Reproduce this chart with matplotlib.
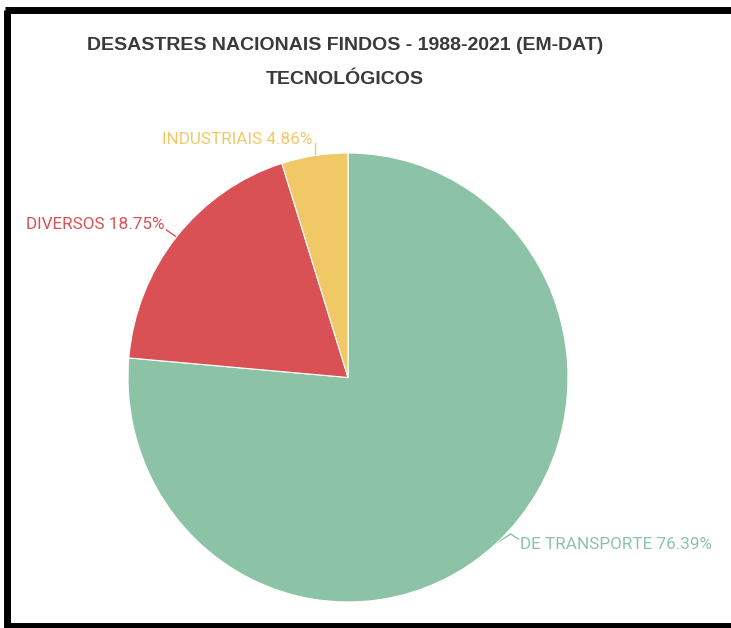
import matplotlib
matplotlib.use("Agg")
import matplotlib.pyplot as plt
import numpy as np

categories = ["DE TRANSPORTE", "DIVERSOS", "INDUSTRIAIS"]
values = [76.39, 18.75, 4.86]
colors = ["#8CC3A7", "#D95155", "#F0C966"]
title_lines = ["DESASTRES NACIONAIS FINDOS - 1988-2021 (EM-DAT)", "TECNOLÓGICOS"]

W, H = 731, 628
fig = plt.figure(figsize=(W / 100, H / 100), dpi=100)

# overlay axes in pixel coordinates
ov = fig.add_axes([0, 0, 1, 1])
ov.set_xlim(0, W)
ov.set_ylim(0, H)
ov.axis("off")

# pie axes (slightly elliptical like the reference)
pcx, pcy, pw, ph = 348, 377.5, 440, 449
pax = fig.add_axes([(pcx - pw / 2) / W, (H - pcy - ph / 2) / H, pw / W, ph / H])
wedges, _ = pax.pie(values, colors=colors, startangle=90, counterclock=False,
                    radius=1, frame=True,
                    wedgeprops=dict(edgecolor="white", linewidth=0.8))
pax.set_xlim(-1, 1)
pax.set_ylim(-1, 1)
pax.set_aspect("auto")
pax.axis("off")

label_font = ["Roboto", "DejaVu Sans"]
layouts = [
    ([(0, 0), (14, 9), (22, 4)], (23, -1), "left"),
    ([(0, 0), (-10, 7)], (-12, 12), "right"),
    ([(0, 0), (0, 13)], (-2, 16), "right"),
]
for w, cat, val, col, (pts, toff, ha) in zip(wedges, categories, values, colors, layouts):
    mid = np.deg2rad((w.theta1 + w.theta2) / 2)
    ex = pcx + pw / 2 * np.cos(mid)
    ey = (H - pcy) + ph / 2 * np.sin(mid)
    xs = [ex + p[0] for p in pts]
    ys = [ey + p[1] for p in pts]
    ov.plot(xs, ys, color=col, lw=1.0)
    ov.text(ex + toff[0], ey + toff[1], f"{cat} {val:.2f}%", color=col,
            ha=ha, va="center", fontsize=12.3, family=label_font)

title_font = ["Liberation Sans", "DejaVu Sans"]
ov.text(345, H - 45, title_lines[0], ha="center", va="center", fontsize=14,
        fontweight="bold", color="#3a3a3a", family=title_font)
ov.text(345, H - 80, title_lines[1], ha="center", va="center", fontsize=14,
        fontweight="bold", color="#3a3a3a", family=title_font)

# black frame (left, top, bottom)
ov.plot([7, 7], [0, H - 10], color="black", lw=5, solid_capstyle="butt")
ov.plot([4.5, W], [H - 10, H - 10], color="black", lw=5, solid_capstyle="butt")
ov.plot([4.5, W], [2.5, 2.5], color="black", lw=5, solid_capstyle="butt")

fig.savefig("out.png", dpi=100)
